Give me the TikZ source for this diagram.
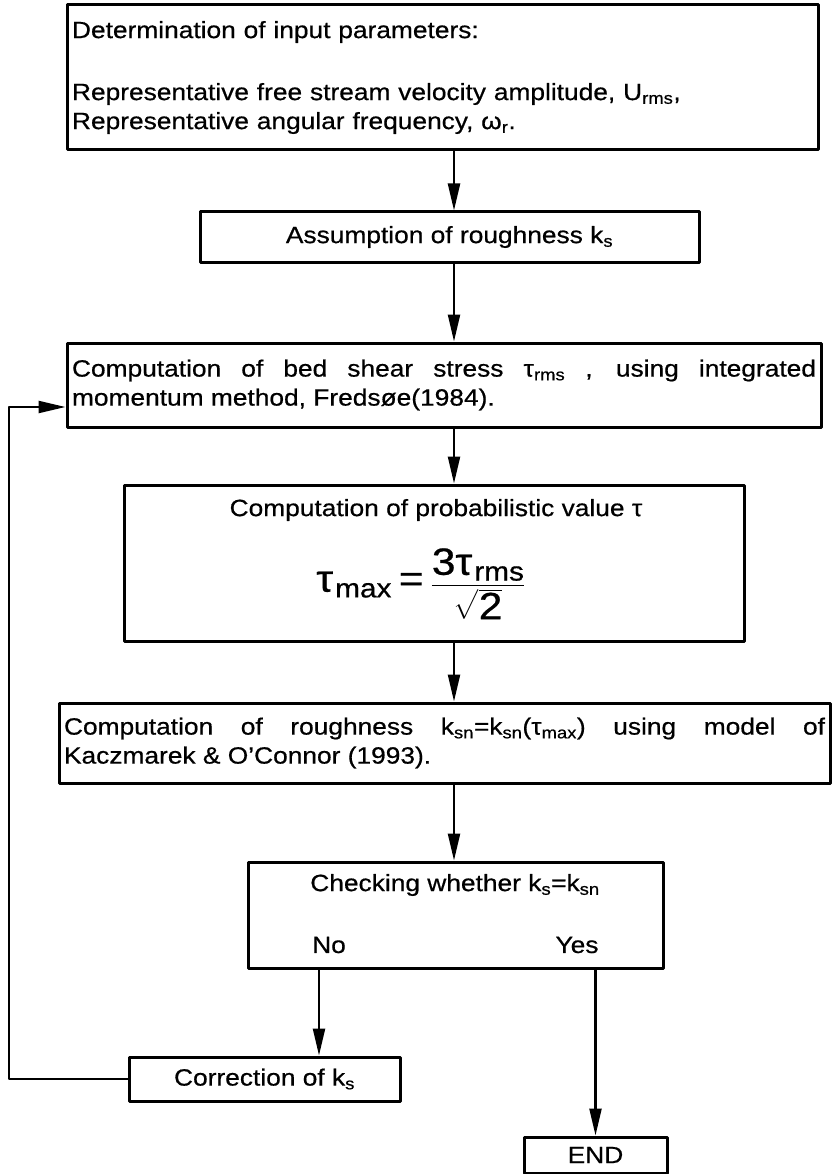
\documentclass[tikz,border=0pt]{standalone}
\usepackage{amsmath}
\usepackage{fontspec}
\setmainfont{Liberation Sans}[FakeStretch=1.12, FakeBold=0.6]
\usepackage{tikz}
\usetikzlibrary{arrows.meta, positioning, calc}
\newcommand{\low}[1]{\textsubscript{#1}}
\tikzset{every node/.style={font=\fontsize{23.5}{29}\selectfont}, every path/.style={line cap=round, line join=round}, >={Triangle[length=27pt, width=12pt]}}
\tikzset{
    box/.style={draw, line width=3pt, inner xsep=5pt, inner ysep=0pt},
    flow/.style={->, line width=2.3pt}
}

\begin{document}
\begin{tikzpicture}[x=1pt, y=-1pt]
    \useasboundingbox (0,0) rectangle (832,1174);

    % main column of steps
    \node [box, text width=741pt, minimum height=145pt, align=left] (input) at (442.5,77.5) {
        Determination of input parameters:\\[33pt]
        Representative free stream velocity amplitude, U\low{rms},\\
        Representative angular frequency, ω\low{r}.\\[6pt]
    };
    \node [box, minimum width=499pt, minimum height=50pt] (assume) at (449.5,237) {Assumption of roughness k\low{s}};
    \node [box, text width=744pt, minimum height=84pt, align=justify] (shear) at (444,385) {
        Computation of bed shear stress τ\low{rms} , using integrated\linebreak
        momentum method, Fredsøe(1984).
    };
    \node [box, minimum width=620pt, minimum height=156pt] (prob) at (434,563) {};
    \node (problabel) at (436,510) {Computation of probabilistic value τ};
    \node [font=\fontsize{38}{44}\selectfont] (probformula) at (421,584)
        {$\text{τ\kern2pt}_{\text{max}} \mathrel{\text{=}} \dfrac{\text{3τ\kern2pt}_{\text{rms}}\rule[-5pt]{0pt}{5pt}}{\sqrt{\text{2}}}$};
    \node [box, text width=761pt, minimum height=80pt, align=justify] (rough) at (444.5,743) {
        Computation of roughness k\low{sn}=k\low{sn}(τ\low{max}) using model of\linebreak
        Kaczmarek \& O'Connor (1993).
    };

    % decision
    \node [box, minimum width=415pt, minimum height=106pt] (check) at (455.5,915) {};
    \node (checktitle) at (455,885) {Checking whether k\low{s}=k\low{sn}};
    \node (no) at (329,945) {No};
    \node (yes) at (577,945) {Yes};
    \node [box, minimum width=271pt, minimum height=44pt] (correct) at (264.5,1079) {Correction of k\low{s}};
    \node [box, minimum width=143pt, minimum height=36pt] (end) at (595.5,1155) {END};

    % connectors
    \coordinate (spine) at (454,0);
    \coordinate (nobranch) at (319,0);
    \coordinate (back) at (9,407);
    \draw [flow] (spine |- input.south) -- (spine |- assume.north);
    \draw [flow] (spine |- assume.south) -- (spine |- shear.north);
    \draw [flow] (spine |- shear.south) -- (spine |- prob.north);
    \draw [flow] (spine |- prob.south) -- (spine |- rough.north);
    \draw [flow] (spine |- rough.south) -- (spine |- check.north);
    \draw [flow] (nobranch |- check.south) -- (nobranch |- correct.north);
    \draw [flow] (end.north |- check.south) -- (end.north);
    \draw [flow] (correct.west) -| (back) -- (back -| shear.west);
\end{tikzpicture}
\end{document}
